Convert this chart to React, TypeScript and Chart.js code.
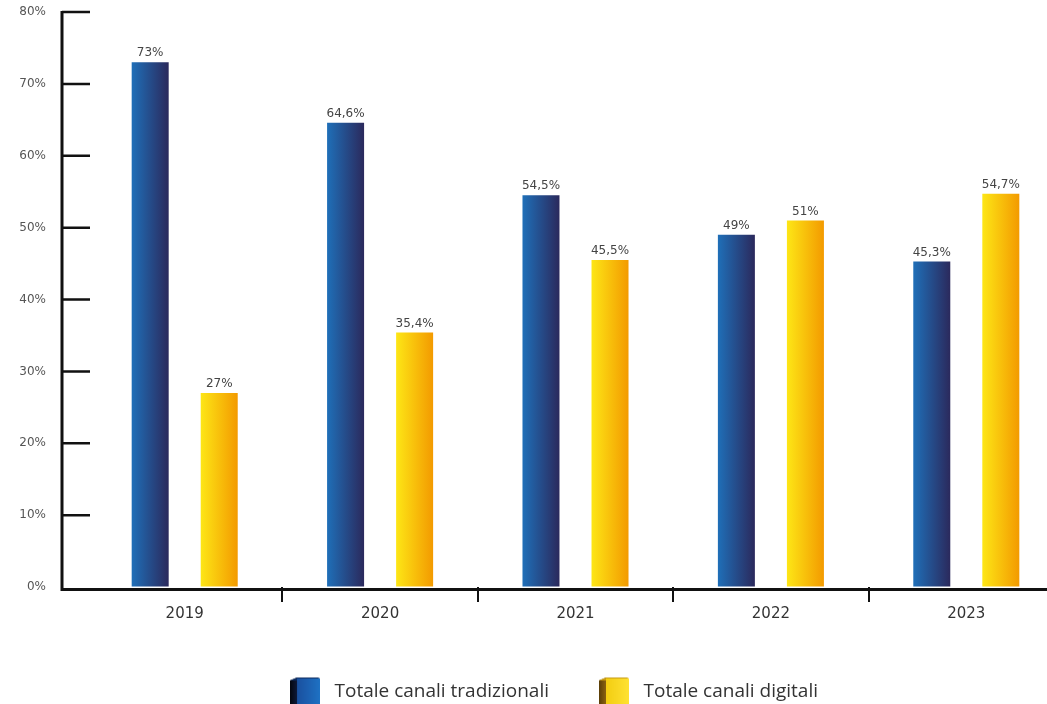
import React, { useEffect, useRef } from "react";
import { Chart, registerables } from "chart.js";

Chart.register(...registerables);

const categories = ["2019", "2020", "2021", "2022", "2023"];
const traditional = [73, 64.6, 54.5, 49, 45.3];
const digital = [27, 35.4, 45.5, 51, 54.7];
const seriesNames = ["Totale canali tradizionali", "Totale canali digitali"];
const blueStops = ["#1f6fb8", "#2b295c"];
const yellowStops = ["#fde616", "#f39a00"];
const NUMFONT = "'DejaVu Sans', sans-serif";
const TEXTFONT = "'Open Sans', sans-serif";

function fmt(v: number) {
  return String(v).replace(".", ",") + "%";
}

function makeIcon(side: string[], front: string[]) {
  const c = document.createElement("canvas");
  c.width = 30;
  c.height = 30;
  const g = c.getContext("2d")!;
  const sg = g.createLinearGradient(0, 0, 7, 0);
  sg.addColorStop(0, side[0]);
  sg.addColorStop(1, side[1]);
  g.fillStyle = sg;
  g.beginPath();
  g.moveTo(0, 4);
  g.lineTo(7, 1);
  g.lineTo(7, 30);
  g.lineTo(0, 30);
  g.closePath();
  g.fill();
  g.fillStyle = front[2];
  g.beginPath();
  g.moveTo(0, 4);
  g.lineTo(7, 1);
  g.lineTo(30, 1);
  g.lineTo(24, 4);
  g.closePath();
  g.fill();
  const fg = g.createLinearGradient(6, 0, 30, 0);
  fg.addColorStop(0, front[0]);
  fg.addColorStop(1, front[1]);
  g.fillStyle = fg;
  g.fillRect(7, 2, 23, 28);
  return c;
}

const gradientPlugin = {
  id: "barGradient",
  beforeDatasetsDraw(chart: any) {
    const ctx = chart.ctx;
    chart.data.datasets.forEach((_ds: any, i: number) => {
      const meta = chart.getDatasetMeta(i);
      const stops = i === 0 ? blueStops : yellowStops;
      meta.data.forEach((el: any) => {
        const { x, width } = el.getProps(["x", "width"], true);
        const g = ctx.createLinearGradient(x - width / 2, 0, x + width / 2, 0);
        g.addColorStop(0, stops[0]);
        g.addColorStop(1, stops[1]);
        el.options = { ...el.options, backgroundColor: g };
      });
    });
  },
};

const labelPlugin = {
  id: "valueLabels",
  afterDatasetsDraw(chart: any) {
    const ctx = chart.ctx;
    ctx.save();
    ctx.font = `12px ${NUMFONT}`;
    ctx.fillStyle = "#444";
    ctx.textAlign = "center";
    ctx.textBaseline = "bottom";
    chart.data.datasets.forEach((ds: any, i: number) => {
      const meta = chart.getDatasetMeta(i);
      meta.data.forEach((el: any, j: number) => {
        const { x, y } = el.getProps(["x", "y"], true);
        ctx.fillText(fmt(ds.data[j]), x, y - 3);
      });
    });
    ctx.restore();
  },
};

const axisPlugin = {
  id: "customAxes",
  afterDraw(chart: any) {
    const { ctx, chartArea } = chart;
    const y = chart.scales.y;
    const ax = 62;
    const bottom = chartArea.bottom;
    ctx.save();
    ctx.strokeStyle = "#111";
    ctx.lineWidth = 3;
    ctx.beginPath();
    ctx.moveTo(ax, y.getPixelForValue(80) - 1);
    ctx.lineTo(ax, bottom + 4);
    ctx.moveTo(ax - 1.5, bottom + 2.5);
    ctx.lineTo(chartArea.right, bottom + 2.5);
    ctx.stroke();
    ctx.lineWidth = 2.5;
    ctx.beginPath();
    y.ticks.forEach((t: any) => {
      if (t.value === 0) return;
      const py = y.getPixelForValue(t.value);
      ctx.moveTo(ax, py);
      ctx.lineTo(ax + 28, py);
    });
    ctx.stroke();
    // tick labels
    ctx.font = `12px ${NUMFONT}`;
    ctx.fillStyle = "#555";
    ctx.textAlign = "right";
    ctx.textBaseline = "middle";
    y.ticks.forEach((t: any) => {
      ctx.fillText(t.value + "%", ax - 16, y.getPixelForValue(t.value));
    });
    ctx.restore();
  },
};

export default function App() {
  const ref = useRef<HTMLCanvasElement>(null);
  useEffect(() => {
    document.body.style.margin = "0";
    const icons = [
      makeIcon(["#05070f", "#0e1a3a"], ["#1a4f9e", "#1f72c4", "#0c2a5e"]),
      makeIcon(["#5a3e08", "#8a6210"], ["#f2cc10", "#ffe233", "#c79a10"]),
    ];
    const chart = new Chart(ref.current!, {
      type: "bar",
      data: {
        labels: categories,
        datasets: [
          { label: seriesNames[0], data: traditional, backgroundColor: blueStops[0] },
          { label: seriesNames[1], data: digital, backgroundColor: yellowStops[0] },
        ],
      },
      options: {
        responsive: false,
        animation: false,
        layout: { padding: { top: 12, right: 39, bottom: 0, left: 39 } },
        datasets: {
          bar: { categoryPercentage: 0.7066, barPercentage: 0.536 },
        },
        scales: {
          x: {
            offset: true,
            border: { display: false },
            grid: {
              offset: true,
              drawOnChartArea: false,
              drawTicks: true,
              tickLength: 15,
              lineWidth: 2,
              color: (c: any) => (c.index === 0 ? "rgba(0,0,0,0)" : "#111"),
            },
            ticks: {
              padding: 3,
              color: "#333",
              font: { family: NUMFONT, size: 15 },
            },
            afterFit: (s: any) => {
              s.height = 50;
            },
          },
          y: {
            min: 0,
            max: 80,
            border: { display: false },
            grid: { drawOnChartArea: false, drawTicks: false },
            ticks: { stepSize: 10, display: false },
            afterFit: (s: any) => {
              s.width = 48;
            },
          },
        },
        plugins: {
          legend: {
            position: "bottom",
            labels: {
              usePointStyle: true,
              pointStyleWidth: 40,
              padding: 45,
              color: "#333",
              font: { family: TEXTFONT, size: 19 },
              generateLabels: () =>
                seriesNames.map((n, i) => ({
                  text: n,
                  pointStyle: icons[i],
                  fillStyle: i === 0 ? blueStops[0] : yellowStops[0],
                  strokeStyle: "rgba(0,0,0,0)",
                  lineWidth: 0,
                  hidden: false,
                  datasetIndex: i,
                  fontColor: "#333",
                })),
            },
          },
          tooltip: { enabled: false },
        },
      },
      plugins: [gradientPlugin, labelPlugin, axisPlugin],
    });
    return () => chart.destroy();
  }, []);
  return (
    <div style={{ width: 1047, height: 704, overflow: "hidden", position: "relative", background: "#fff" }}>
      <canvas ref={ref} width={1103} height={711} style={{ display: "block" }} />
    </div>
  );
}
